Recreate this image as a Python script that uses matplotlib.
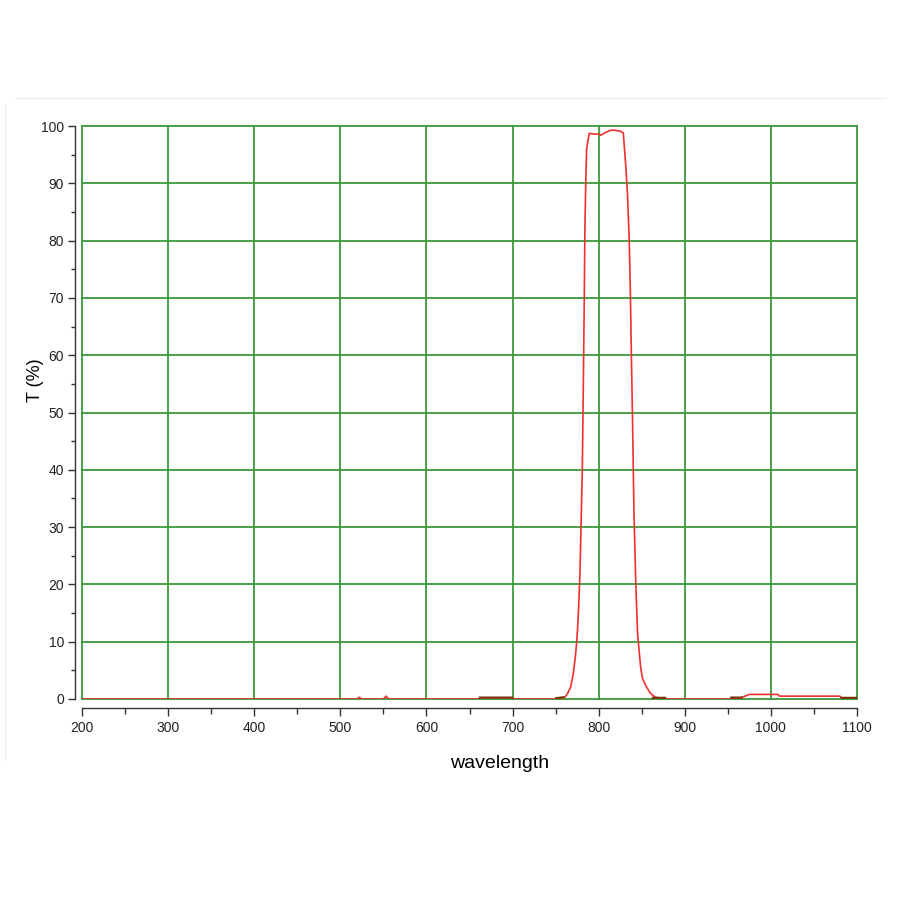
import numpy as np
import matplotlib
matplotlib.use("Agg")
import matplotlib.pyplot as plt
from matplotlib.lines import Line2D
from matplotlib.ticker import MultipleLocator

plt.rcParams['font.family'] = ['Liberation Sans', 'DejaVu Sans']

# transmission curve (red)
wavelength = [200, 519, 522, 525, 550, 553, 556, 750, 753, 757, 761, 764, 767.5,
              770, 771.5, 773, 774.5, 776, 777, 778.3, 779.5, 781, 782.2, 783.3,
              784, 785, 786, 789, 795, 799, 803, 807, 813, 817, 821, 825, 828.6,
              830, 831.5, 833.5, 835.5, 836.7, 838, 839.4, 841, 843, 845, 846,
              848.7, 851, 855.6, 860, 865.4, 872, 880, 900, 960, 965, 975, 1008,
              1010, 1080, 1083, 1100]
trans = [0, 0, 0.3, 0, 0, 0.5, 0, 0, 0.05, 0.15, 0.35, 1.0, 2.1,
         4.0, 5.6, 7.5, 10, 13.5, 17, 22, 30, 40, 55, 70,
         82, 90, 96, 98.7, 98.6, 98.6, 98.4, 98.8, 99.2, 99.3, 99.2, 99.1, 98.8,
         96, 93, 88, 80, 72, 60, 48, 32.5, 20.8, 12, 10,
         5.6, 3.5, 2.1, 1.0, 0.35, 0.1, 0, 0, 0, 0.2, 0.8, 0.8,
         0.5, 0.5, 0.1, 0.1]

# second trace (dark brown), only visible at the baseline
wl_dark = [662, 700, np.nan, 751, 759, np.nan, 863, 877, np.nan, 954, 966, np.nan, 1082, 1100]
t_dark = [0.25, 0.25, np.nan, 0.15, 0.3, np.nan, 0.2, 0.2, np.nan, 0.25, 0.25, np.nan, 0.2, 0.2]

x_ticks = [200, 300, 400, 500, 600, 700, 800, 900, 1000, 1100]
y_ticks = [0, 10, 20, 30, 40, 50, 60, 70, 80, 90, 100]

fig = plt.figure(figsize=(9, 9), dpi=100)
ax = fig.add_axes([82 / 900, 1 - 699 / 900, 775 / 900, 573 / 900])

ax.plot(wavelength, trans, color="#ee3030", lw=1.2, zorder=3)
ax.plot(wl_dark, t_dark, color="#7a3510", lw=1.6, zorder=4)

ax.set_xlim(200, 1100)
ax.set_ylim(0, 100)
ax.set_xticks(x_ticks)
ax.set_yticks(y_ticks)
ax.xaxis.set_minor_locator(MultipleLocator(50))
ax.yaxis.set_minor_locator(MultipleLocator(5))

# green grid incl. the outer box
for xv in x_ticks:
    ax.axvline(xv, color="#3a9a3a", lw=1.3, zorder=1, clip_on=False)
for yv in y_ticks:
    ax.axhline(yv, color="#3a9a3a", lw=1.3, zorder=1, clip_on=False)

for s in ["top", "right"]:
    ax.spines[s].set_visible(False)
ax.spines["left"].set_position(("outward", 5))
ax.spines["bottom"].set_position(("outward", 6.5))
ax.spines["left"].set_bounds(0, 100)
ax.spines["bottom"].set_bounds(200, 1100)
for s in ["left", "bottom"]:
    ax.spines[s].set_color("#333333")
    ax.spines[s].set_linewidth(1.0)

ax.tick_params(which="major", length=5, width=1.0, color="#333333",
               labelsize=10, labelcolor="#222222", pad=3)
ax.tick_params(which="minor", length=3, width=1.0, color="#333333")
ax.tick_params(axis="x", which="major", length=6)
ax.tick_params(axis="x", which="minor", length=4)

ax.set_xlabel("wavelength", fontsize=14)
ax.set_ylabel("T (%)", fontsize=13)
ax.xaxis.set_label_coords(0.539, -0.097)
ax.yaxis.set_label_coords(-0.049, 0.557)

# faint frame around the chart
fig.add_artist(Line2D([15 / 900, 885 / 900], [1 - 98 / 900, 1 - 98 / 900],
                      color="#eeeeee", lw=1))
fig.add_artist(Line2D([5 / 900, 5 / 900], [1 - 105 / 900, 1 - 760 / 900],
                      color="#eeeeee", lw=1))

fig.savefig("out.png", dpi=100)
